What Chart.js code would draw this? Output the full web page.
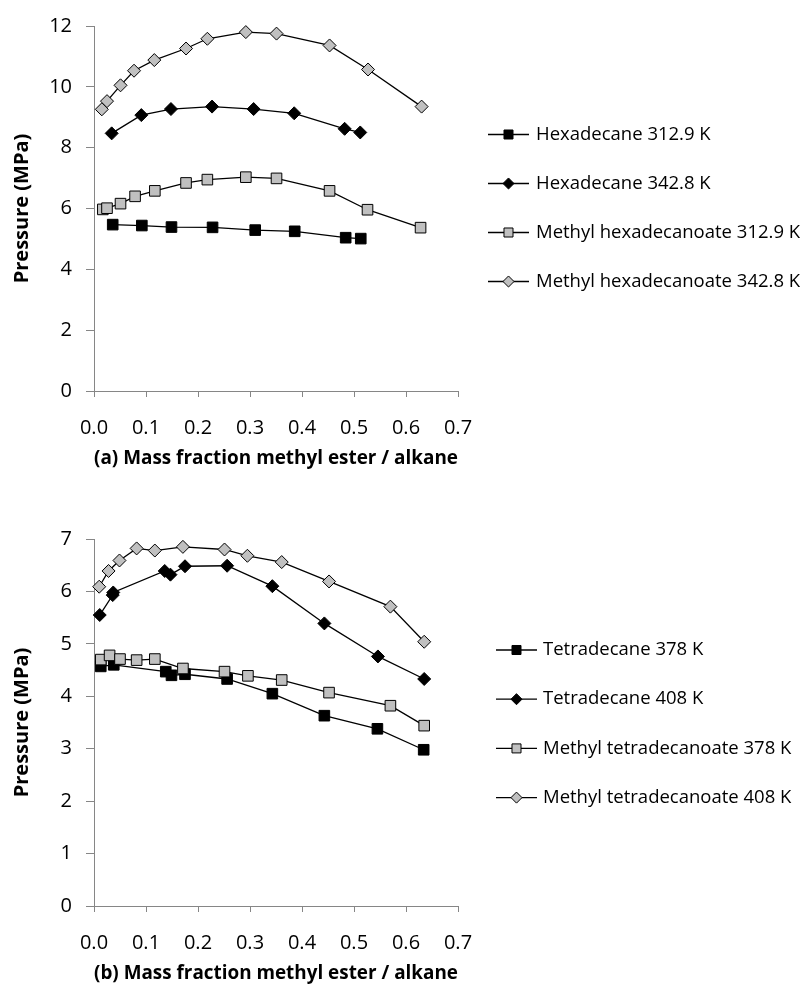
<!DOCTYPE html>
<html>
<head>
<meta charset="utf-8">
<script src="https://cdn.jsdelivr.net/npm/chart.js@4.4.7/dist/chart.umd.js"></script>
<style>
  body { margin: 0; background: #fff; }
  #wrap { position: relative; width: 803px; height: 988px; }
  canvas { position: absolute; left: 0; }
</style>
</head>
<body>
<div id="wrap">
  <canvas id="chartA" width="803" height="470" style="top:0px"></canvas>
  <canvas id="chartB" width="803" height="495" style="top:490px"></canvas>
</div>
<script>
// (a) hexadecane / methyl hexadecanoate
const hex3129X = [0.036, 0.092, 0.149, 0.228, 0.310, 0.386, 0.484, 0.513];
const hex3129Y = [5.47, 5.44, 5.39, 5.38, 5.29, 5.25, 5.04, 5.01];
const hex3428X = [0.034, 0.091, 0.148, 0.227, 0.307, 0.385, 0.482, 0.512];
const hex3428Y = [8.47, 9.07, 9.27, 9.35, 9.27, 9.13, 8.62, 8.50];
const mhex3129X = [0.017, 0.025, 0.051, 0.079, 0.117, 0.177, 0.218, 0.292, 0.351, 0.453, 0.526, 0.628];
const mhex3129Y = [5.97, 6.01, 6.16, 6.40, 6.58, 6.84, 6.95, 7.03, 6.99, 6.58, 5.96, 5.37];
const mhex3428X = [0.015, 0.025, 0.051, 0.077, 0.116, 0.177, 0.218, 0.292, 0.351, 0.453, 0.527, 0.630];
const mhex3428Y = [9.26, 9.53, 10.05, 10.53, 10.88, 11.26, 11.58, 11.80, 11.75, 11.36, 10.57, 9.35];

// (b) tetradecane / methyl tetradecanoate
const tet378X = [0.013, 0.038, 0.138, 0.149, 0.175, 0.256, 0.343, 0.443, 0.545, 0.634];
const tet378Y = [4.57, 4.60, 4.47, 4.40, 4.42, 4.33, 4.05, 3.63, 3.38, 2.98];
const tet408X = [0.011, 0.036, 0.037, 0.136, 0.147, 0.175, 0.256, 0.343, 0.443, 0.546, 0.635];
const tet408Y = [5.55, 5.93, 5.98, 6.39, 6.32, 6.48, 6.49, 6.10, 5.39, 4.76, 4.33];
const mtet378X = [0.013, 0.030, 0.050, 0.082, 0.117, 0.171, 0.251, 0.296, 0.361, 0.452, 0.570, 0.635];
const mtet378Y = [4.70, 4.78, 4.71, 4.69, 4.71, 4.53, 4.47, 4.39, 4.31, 4.07, 3.82, 3.44];
const mtet408X = [0.010, 0.028, 0.049, 0.082, 0.117, 0.171, 0.251, 0.295, 0.361, 0.452, 0.570, 0.635];
const mtet408Y = [6.09, 6.39, 6.59, 6.82, 6.78, 6.85, 6.80, 6.68, 6.56, 6.19, 5.71, 5.04];

const labelsA = ["Hexadecane 312.9 K", "Hexadecane 342.8 K", "Methyl hexadecanoate 312.9 K", "Methyl hexadecanoate 342.8 K"];
const labelsB = ["Tetradecane 378 K", "Tetradecane 408 K", "Methyl tetradecanoate 378 K", "Methyl tetradecanoate 408 K"];
const xTicks = [0, 0.1, 0.2, 0.3, 0.4, 0.5, 0.6, 0.7];

const axisGray = "#868686";
const fontFamily = "'Open Sans', Lato, sans-serif";
Chart.defaults.font.family = fontFamily;
Chart.defaults.color = "#000";

// marker styles, same order in both panels
const markers = [
  { pointStyle: "rect", fill: "#000", radius: 7.5 },
  { pointStyle: "rectRot", fill: "#000", radius: 6.5 },
  { pointStyle: "rect", fill: "#c0c0c0", radius: 7.5 },
  { pointStyle: "rectRot", fill: "#c0c0c0", radius: 6.5 },
];

function series(label, xs, ys, i) {
  const m = markers[i];
  return {
    label: label,
    data: xs.map((x, k) => ({ x: x, y: ys[k] })),
    showLine: true,
    borderColor: "#000",
    borderWidth: 1.3,
    pointStyle: m.pointStyle,
    pointRadius: m.radius,
    pointHoverRadius: m.radius,
    pointBackgroundColor: m.fill,
    pointBorderColor: "#000",
    pointBorderWidth: 1,
    order: 4 - i,
    clip: false,
  };
}

// legend drawn Excel style: short line with marker in the middle
const lineLegend = {
  id: "lineLegend",
  afterDraw(chart, args, opts) {
    const ctx = chart.ctx;
    chart.data.datasets.forEach((ds, i) => {
      const y = opts.top + i * opts.step;
      ctx.save();
      ctx.strokeStyle = ds.borderColor;
      ctx.lineWidth = ds.borderWidth;
      ctx.beginPath();
      ctx.moveTo(opts.x0, y);
      ctx.lineTo(opts.x1, y);
      ctx.stroke();
      ctx.fillStyle = ds.pointBackgroundColor;
      ctx.strokeStyle = ds.pointBorderColor;
      ctx.lineWidth = ds.pointBorderWidth;
      Chart.helpers.drawPoint(ctx, {
        pointStyle: ds.pointStyle, rotation: 0,
        radius: ds.pointRadius * 0.85, borderWidth: ds.pointBorderWidth,
      }, (opts.x0 + opts.x1) / 2, y);
      ctx.fillStyle = "#000";
      ctx.font = "18.5px " + fontFamily;
      ctx.textBaseline = "middle";
      ctx.textAlign = "left";
      ctx.fillText(ds.label, opts.textX, y);
      ctx.restore();
    });
  },
};

function makeChart(id, datasets, yMax, yStep, xTitle, padTop, legendOpts) {
  return new Chart(document.getElementById(id), {
    type: "scatter",
    data: { datasets: datasets },
    plugins: [lineLegend],
    options: {
      responsive: false,
      animation: false,
      layout: { padding: { top: padTop, right: 345, bottom: 0, left: 0 } },
      plugins: {
        legend: { display: false },
        tooltip: { enabled: false },
        lineLegend: legendOpts,
      },
      scales: {
        x: {
          type: "linear",
          min: 0,
          max: 0.7,
          afterBuildTicks: (s) => { s.ticks = xTicks.map((v) => ({ value: v })); },
          ticks: {
            callback: (v) => Number(v).toFixed(1),
            font: { size: 20 },
            color: "#000",
            padding: 19,
            maxRotation: 0,
            autoSkip: false,
          },
          grid: { drawOnChartArea: false, drawTicks: true, tickLength: 6, color: axisGray },
          border: { color: axisGray, width: 1 },
          title: { display: true, text: xTitle, font: { size: 19.5, weight: "bold" }, color: "#000", padding: 0 },
          afterFit: (s) => { s.height = 79; },
        },
        y: {
          min: 0,
          max: yMax,
          ticks: { stepSize: yStep, font: { size: 20 }, color: "#000", padding: 14 },
          grid: { drawOnChartArea: false, drawTicks: true, tickLength: 8, color: axisGray },
          border: { color: axisGray, width: 1 },
          title: { display: true, text: "Pressure (MPa)", font: { size: 20, weight: "bold" }, color: "#000", padding: { top: 10, bottom: 0 } },
          afterFit: (s) => { s.width = 94; },
        },
      },
    },
  });
}

makeChart("chartA", [
  series(labelsA[0], hex3129X, hex3129Y, 0),
  series(labelsA[1], hex3428X, hex3428Y, 1),
  series(labelsA[2], mhex3129X, mhex3129Y, 2),
  series(labelsA[3], mhex3428X, mhex3428Y, 3),
], 12, 2, "(a) Mass fraction methyl ester / alkane", 23,
  { top: 134.5, step: 49, x0: 488, x1: 529, textX: 536 });

makeChart("chartB", [
  series(labelsB[0], tet378X, tet378Y, 0),
  series(labelsB[1], tet408X, tet408Y, 1),
  series(labelsB[2], mtet378X, mtet378Y, 2),
  series(labelsB[3], mtet408X, mtet408Y, 3),
], 7, 1, "(b) Mass fraction methyl ester / alkane", 49,
  { top: 160, step: 49.2, x0: 496, x1: 537, textX: 543 });
</script>
</body>
</html>
